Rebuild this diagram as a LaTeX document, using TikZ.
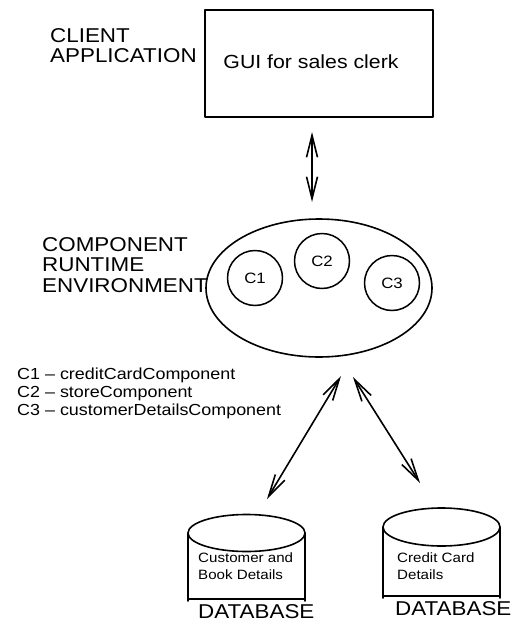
\documentclass[tikz,border=0pt]{standalone}
\usepackage{fontspec}
\setmainfont[FakeStretch=1.12]{Liberation Sans}
\usetikzlibrary{shapes.geometric,arrows.meta,positioning}
\begin{document}
\begin{tikzpicture}[x=1pt, y=-1pt, line join=round, line cap=round,
	lbl/.style={inner sep=0pt, anchor=north west, align=left, font=\fontsize{20}{20.5}\selectfont},
	small/.style={inner sep=0pt, anchor=north west, align=left, font=\fontsize{16}{18}\selectfont},
	dbtext/.style={inner sep=0pt, anchor=north west, align=left, font=\fontsize{13.5}{16.5}\selectfont},
	comp/.style={draw, circle, line width=1.5pt, minimum size=55pt, inner sep=0pt, font=\fontsize{15}{15}\selectfont},
	dbl/.style={{Straight Barb[length=22pt,width=11pt]}-{Straight Barb[length=22pt,width=11pt]}, line width=1.6pt}]
	\useasboundingbox (0,0) rectangle (515,621);
	% client side
	\node[draw, line width=2pt, minimum width=228pt, minimum height=107pt, inner sep=0pt] (gui) at (319,63.5) {};
	\node[inner sep=0pt, font=\fontsize{19}{20}\selectfont] (guitext) at (311,62) {GUI for sales clerk};
	\node[lbl] (client) at (50,28) {CLIENT\\APPLICATION};
	% runtime
	\node[draw, ellipse, line width=1.6pt, minimum width=226pt, minimum height=138pt, inner sep=0pt] (cre) at (319,288) {};
	\node[lbl] (crelbl) at (42,237) {COMPONENT\\RUNTIME\\ENVIRONMENT};
	\node[comp] (c1) at (255,278) {C1};
	\node[comp] (c2) at (322,261) {C2};
	\node[comp] (c3) at (392,283) {C3};
	\node[small] (key) at (17,368) {C1 -- creditCardComponent\\C2 -- storeComponent\\C3 -- customerDetailsComponent};
	% databases
	\draw[line width=1.6pt] (188,533) -- (188,601) (305,533) -- (305,601) (246.5,533) ellipse (58.5 and 18.5);
	\draw[line width=1.2pt] (188,599) -- (305,599);
	\draw[line width=1.6pt] (383,527) -- (383,598) (500,527) -- (500,598) (441.5,527) ellipse (58.5 and 19);
	\draw[line width=1.2pt] (383,596) -- (500,596);
	\node[dbtext] (db1text) at (198,553) {Customer and\\Book Details};
	\node[dbtext] (db2text) at (397,553) {Credit Card\\Details};
	\node[lbl] (db1) at (198,604) {DATABASE};
	\node[lbl] (db2) at (395,601) {DATABASE};
	% connectors
	\coordinate (g1) at (312,132);
	\coordinate (g2) at (312,202);
	\coordinate (r1) at (341,376);
	\coordinate (r2) at (353,377);
	\coordinate (d1) at (267,499);
	\coordinate (d2) at (420,483);
	\draw[dbl] (g1) -- (g2);
	\draw[dbl] (r1) -- (d1);
	\draw[dbl] (r2) -- (d2);
\end{tikzpicture}
\end{document}
